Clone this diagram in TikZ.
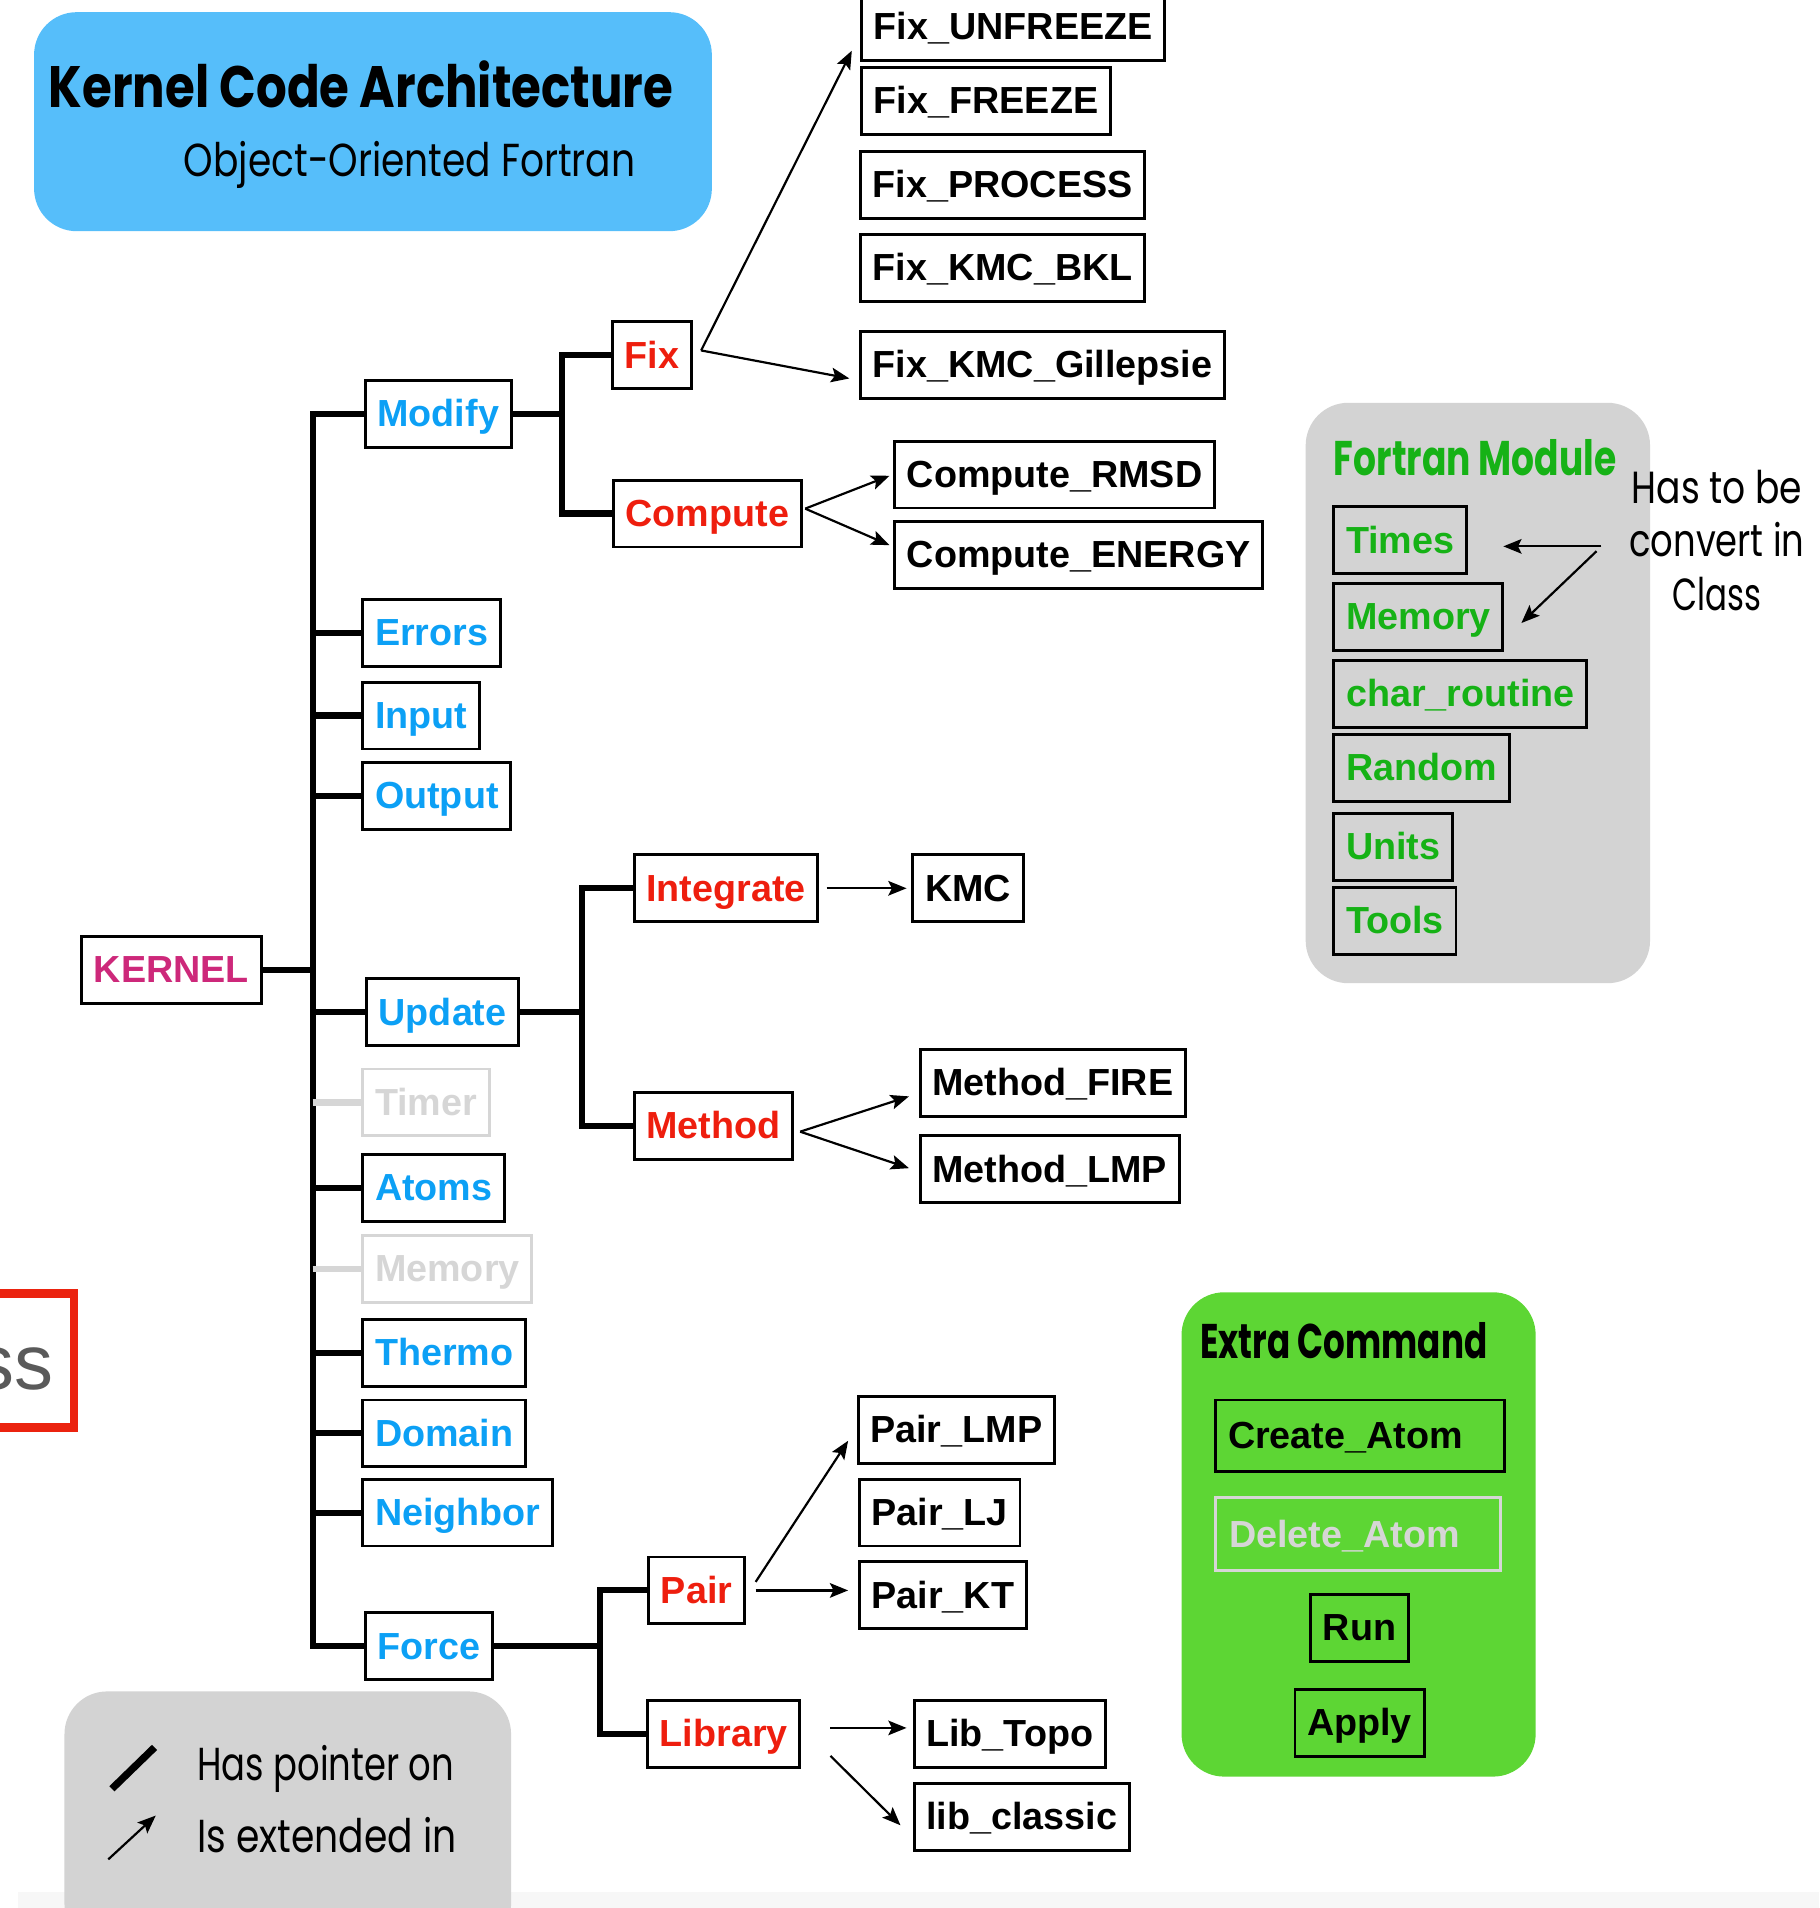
\documentclass[tikz,border=0pt]{standalone}
\usepackage{fontspec}
\usepackage{graphicx}
\usetikzlibrary{arrows.meta,calc}
\setmainfont{Liberation Sans}
\newfontfamily\handfont{Poppins}
\newcommand\boxfont{\fontsize{31}{31}\selectfont\bfseries}
\newcommand\fitw[2]{\resizebox{#1}{\height}{#2}}

\definecolor{blueT}{RGB}{12,160,245}
\definecolor{redT}{RGB}{238,30,14}
\definecolor{magT}{RGB}{205,40,122}
\definecolor{greenT}{RGB}{22,178,22}
\definecolor{grayT}{RGB}{214,214,214}
\definecolor{titleBlue}{RGB}{86,190,250}
\definecolor{panelGray}{RGB}{211,211,211}
\definecolor{extraGreen}{RGB}{93,214,52}
\definecolor{stripGray}{RGB}{247,247,247}
\definecolor{redFrame}{RGB}{235,35,15}
\definecolor{ssGray}{RGB}{90,90,90}

\tikzset{
  cls/.style={draw, line width=2.4pt, anchor=west, minimum height=55pt,
    inner xsep=10pt, inner ysep=0pt, text height=24.5pt, text depth=3.5pt,
    font=\boxfont},
  kbox/.style={cls, text=magT},
  bbox/.style={cls, text=blueT},
  rbox/.style={cls, text=redT},
  kkbox/.style={cls, text=black},
  gbox/.style={cls, text=greenT},
  offbox/.style={cls, draw=grayT, text=grayT},
  trunk/.style={line width=5pt, line join=miter},
  offtrunk/.style={line width=5pt, draw=grayT},
  arr/.style={line width=1.8pt, -{Stealth[length=15pt,width=12pt,inset=3pt]}},
  panel/.style={rounded corners=35pt},
  hand/.style={inner sep=0pt, anchor=base west}
}

\begin{document}
\begin{tikzpicture}[x=1pt, y=-1pt]
\useasboundingbox (0,0) rectangle (1495,1568);
\clip (0,0) rectangle (1495,1568);

% background strip at the foot
\fill[stripGray] (15,1555) rectangle (1495,1570);

% panels
\fill[titleBlue, panel] (28,10) rectangle (585,190);
\fill[panelGray, panel] (1073,331) rectangle (1356,808);
\fill[extraGreen, panel] (971,1062) rectangle (1262,1460);
\fill[panelGray, panel] (53,1390) rectangle (420,1600);

% title
\node[hand] (title) at (40,88)
  {\fitw{513pt}{\fontsize{48}{48}\selectfont\handfont\bfseries Kernel Code Architecture}};
\node[hand] (subtitle) at (151,145)
  {\fitw{371pt}{\fontsize{38}{38}\selectfont\handfont Object-Oriented Fortran}};

% partial red frame on the left edge
\draw[line width=7pt, redFrame] (-40,1063) rectangle (61,1173);
\node[inner sep=0pt, anchor=base east, text=ssGray, font=\fontsize{64}{64}\selectfont] (ss) at (44,1142) {ss};

% root
\node[kbox] (KERNEL) at (66,797) {KERNEL};

% first level
\node[bbox] (Modify) at (299,340) {Modify};
\node[bbox] (Errors) at (297,520) {Errors};
\node[bbox] (Input) at (297,588) {Input};
\node[bbox] (Output) at (297,654) {Output};
\node[bbox] (Update) at (300,832) {Update};
\node[offbox] (Timer) at (297,906) {Timer};
\node[bbox] (Atoms) at (297,976) {Atoms};
\node[offbox] (MemoryK) at (297,1043) {Memory};
\node[bbox] (Thermo) at (297,1112) {Thermo};
\node[bbox] (Domain) at (297,1178) {Domain};
\node[bbox] (Neighbor) at (297,1243) {Neighbor};
\node[bbox] (Force) at (299,1353) {Force};

% second level
\node[rbox] (Fix) at (502,292) {Fix};
\node[rbox] (Compute) at (503,422) {Compute};
\node[rbox] (Integrate) at (520,730) {Integrate};
\node[rbox] (Method) at (520,925) {Method};
\node[rbox] (Pair) at (532,1307) {Pair};
\node[rbox] (Library) at (531,1425) {Library};

% leaves
\node[kkbox] (FixU) at (707,22) {Fix\_UNFREEZE};
\node[kkbox] (FixF) at (707,83) {Fix\_FREEZE};
\node[kkbox] (FixP) at (706,152) {Fix\_PROCESS};
\node[kkbox] (FixB) at (706,220) {Fix\_KMC\_BKL};
\node[kkbox] (FixG) at (706,300) {Fix\_KMC\_Gillepsie};
\node[kkbox] (RMSD) at (734,390) {Compute\_RMSD};
\node[kkbox] (ENERGY) at (734,456) {Compute\_ENERGY};
\node[kkbox] (KMC) at (749,730) {KMC};
\node[kkbox] (FIRE) at (755,890) {Method\_FIRE};
\node[kkbox] (LMP) at (755,961) {Method\_LMP};
\node[kkbox] (PairLMP) at (704,1175) {Pair\_LMP};
\node[kkbox] (PairLJ) at (705,1243) {Pair\_LJ};
\node[kkbox] (PairKT) at (705,1311) {Pair\_KT};
\node[kkbox] (LibTopo) at (750,1425) {Lib\_Topo};
\node[kkbox] (LibClassic) at (750,1493) {lib\_classic};

% trunk of the kernel
\coordinate (kx) at (257,797);
\draw[trunk] (KERNEL.east) -- (kx);
\draw[trunk, line cap=rect] (kx |- Modify.west) -- (kx |- Force.west);
\foreach \n in {Modify,Errors,Input,Output,Update,Atoms,Thermo,Domain,Neighbor,Force}
  \draw[trunk] (kx |- \n.west) -- (\n.west);
\foreach \n in {Timer,MemoryK}
  \draw[offtrunk] (kx |- \n.west) -- (\n.west);

% sub-trees
\coordinate (mx) at (462,340);
\draw[trunk] (Modify.east) -- (mx);
\draw[trunk] (Fix.west) -| (mx) |- (Compute.west);
\coordinate (ux) at (478,832);
\draw[trunk] (Update.east) -- (ux);
\draw[trunk] (Integrate.west) -| (ux) |- (Method.west);
\coordinate (fx) at (493,1353);
\draw[trunk] (Force.east) -- (fx);
\draw[trunk] (Pair.west) -| (fx) |- (Library.west);

% extensions
\draw[arr] ($(Fix.east)+(7,-4)$) -- ($(FixU.south west)+(-7,-9)$);
\draw[arr] ($(Fix.east)+(7,-4)$) -- ($(FixG.west)+(-8,11)$);
\draw[arr] ($(Compute.east)+(2,-4)$) -- ($(RMSD.west)+(-3,1)$);
\draw[arr] ($(Compute.east)+(2,-4)$) -- ($(ENERGY.west)+(-3,-8)$);
\draw[arr] ($(Integrate.east)+(6,0)$) -- ($(KMC.west)+(-4,0)$);
\draw[arr] ($(Method.east)+(5,5)$) -- ($(FIRE.west)+(-8,11)$);
\draw[arr] ($(Method.east)+(5,5)$) -- ($(LMP.west)+(-8,-1)$);
\draw[arr] ($(Pair.east)+(8,-7)$) -- ($(PairLMP.west)+(-7,9)$);
\draw[arr] ($(Pair.east)+(8,0)$) -- ($(PairKT.west)+(-8,-4)$);
\draw[arr] ($(Library.east)+(24,-5)$) -- ($(LibTopo.west)+(-5,-5)$);
\draw[arr] ($(Library.east)+(24,18)$) -- ($(LibClassic.west)+(-10,7)$);

% Fortran module panel
\node[hand, text=greenT] (fmod) at (1096,391)
  {\fitw{232pt}{\fontsize{40}{40}\selectfont\handfont\bfseries Fortran Module}};
\node[gbox] (Times) at (1095,444) {Times};
\node[gbox] (MemoryF) at (1095,507) {Memory};
\node[gbox] (Char) at (1095,570) {char\_routine};
\node[gbox] (Random) at (1095,631) {Random};
\node[gbox] (Units) at (1095,696) {Units};
\node[gbox] (Tools) at (1095,757) {Tools};

\node[inner sep=0pt, align=center, anchor=north,
      font=\fontsize{37}{44}\selectfont\handfont] (note) at (1411,386)
  {\fitw{140pt}{Has to be}\\ \fitw{144pt}{convert in}\\ \fitw{73pt}{Class}};
\coordinate (n1) at (1316,449);
\coordinate (n2) at (1312,453);
\draw[arr] (n1) -- ($(Times.east)+(29,5)$);
\draw[arr] (n2) -- ($(MemoryF.east)+(14,5)$);

% extra command panel
\node[hand] (extra) at (986,1116)
  {\fitw{236pt}{\fontsize{40}{40}\selectfont\handfont\bfseries Extra Command}};
\node[kkbox, minimum width=237pt, minimum height=59pt, text width=217pt, align=left] (Create) at (998,1180) {Create\_Atom};
\node[offbox, minimum width=234pt, minimum height=60pt, text width=212pt, align=left, inner xsep=11pt] (Delete) at (998,1261) {Delete\_Atom};
\node[kkbox] (Run) at (1076,1338) {Run};
\node[kkbox] (Apply) at (1063,1416) {Apply};

% legend
\draw[line width=6pt] (92,1470) -- (127,1436);
\draw[arr] (89,1528) -- (128,1492);
\node[hand] (leg1) at (162,1463)
  {\fitw{211pt}{\fontsize{38}{38}\selectfont\handfont Has pointer on}};
\node[hand] (leg2) at (162,1522)
  {\fitw{213pt}{\fontsize{38}{38}\selectfont\handfont Is extended in}};
\end{tikzpicture}
\end{document}
